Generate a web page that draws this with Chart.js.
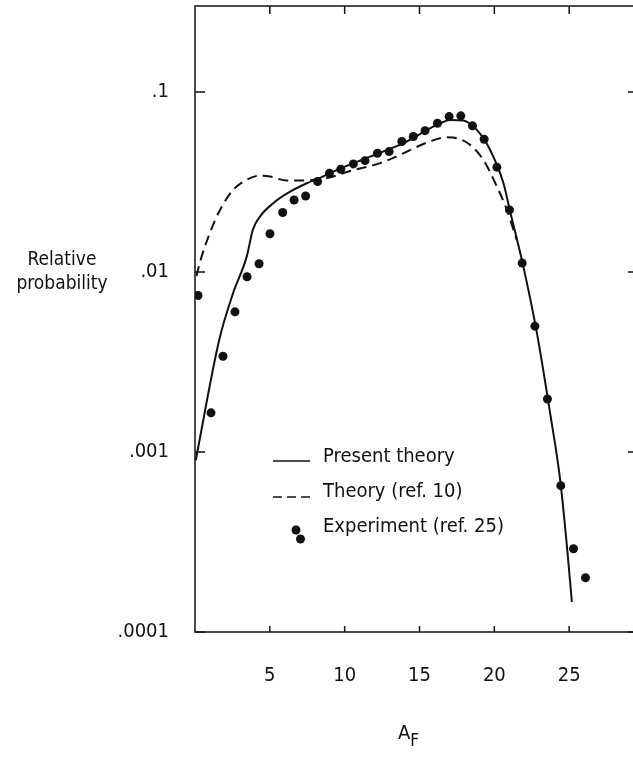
<!DOCTYPE html>
<html>
<head>
<meta charset="utf-8">
<script src="https://cdn.jsdelivr.net/npm/chart.js@4/dist/chart.umd.min.js"></script>
<style>
  html, body { margin: 0; padding: 0; background: #fff; overflow: hidden; }
  body { width: 633px; height: 757px; position: relative; color: #111; }
  #wrap { position: absolute; left: 0; top: 0; width: 660px; height: 757px; }
  .ytitle { position: absolute; left: 0; width: 124px; top: 246px; text-align: center; font-family: 'DejaVu Sans Condensed', sans-serif; font-size: 19px; line-height: 24px; }
  .xtitle { position: absolute; left: 398px; top: 720px; font-family: 'DejaVu Sans Condensed', sans-serif; font-size: 20px; }
  .xtitle sub { font-size: 17px; vertical-align: -7px; }
</style>
</head>
<body>
<div id="wrap"><canvas id="chart" width="660" height="757"></canvas></div>
<div class="ytitle">Relative<br>probability</div>
<div class="xtitle">A<sub>F</sub></div>
<script>
// tick values
const xTicks = [5, 10, 15, 20, 25];
const yTicks = [0.0001, 0.001, 0.01, 0.1];
const yTickLabels = ['.0001', '.001', '.01', '.1'];

// present theory (solid)
const presentX = [0.05, 1.62, 2.54, 3.46, 3.86, 4.34, 5.23, 6.35, 7.47, 8.36, 9.47, 11.7, 13.92, 16.16, 17.05, 17.93, 18.83, 19.72, 20.61, 21.06, 21.94, 22.84, 23.73, 24.4, 24.85, 25.18];
const presentY = [0.0009, 0.0042, 0.0076, 0.0122, 0.0171, 0.0203, 0.0241, 0.0279, 0.0311, 0.0333, 0.0368, 0.0437, 0.0519, 0.0656, 0.0699, 0.0693, 0.0615, 0.0476, 0.0311, 0.0216, 0.0107, 0.0046, 0.00164, 0.0007, 0.0003, 0.000147];

// theory ref. 10 (dashed)
const ref10X = [0.1, 0.38, 1.0, 1.67, 2.56, 3.46, 4.34, 5.01, 6.13, 7.24, 8.8, 10.58, 12.37, 13.92, 15.49, 16.82, 17.49, 18.38, 19.27, 20.17, 20.84, 21.5];
const ref10Y = [0.0095, 0.0117, 0.0165, 0.0221, 0.0286, 0.0325, 0.0343, 0.0339, 0.0322, 0.0322, 0.0332, 0.0368, 0.0402, 0.0456, 0.0523, 0.0560, 0.0553, 0.0508, 0.0419, 0.0298, 0.0221, 0.0150];

// experiment ref. 25 (dots)
const expX = [0.2, 1.07, 1.87, 2.67, 3.48, 4.28, 5.01, 5.86, 6.62, 7.39, 8.19, 8.98, 9.74, 10.58, 11.36, 12.19, 12.97, 13.82, 14.59, 15.37, 16.2, 16.98, 17.76, 18.54, 19.32, 20.17, 21.01, 21.86, 22.71, 23.55, 24.44, 25.29, 26.09];
const expY = [0.0074, 0.00165, 0.0034, 0.0060, 0.0094, 0.0111, 0.0163, 0.0214, 0.0251, 0.0264, 0.0318, 0.0353, 0.0372, 0.0398, 0.0415, 0.0456, 0.0466, 0.0530, 0.0565, 0.0609, 0.0670, 0.0729, 0.0736, 0.0648, 0.0546, 0.0382, 0.0221, 0.0112, 0.0050, 0.00197, 0.00065, 0.00029, 0.00020];

const zip = (xs, ys) => xs.map((x, i) => ({ x, y: ys[i] }));
const INK = '#111';
const TICK_FONT = "'Liberation Sans Narrow', 'DejaVu Sans Condensed', sans-serif";
const TEXT_FONT = "'DejaVu Sans Condensed', sans-serif";

// frame, inward ticks and the legend
const framePlugin = {
  id: 'frame',
  afterDraw(chart) {
    const { ctx, chartArea: a, scales } = chart;
    const xs = scales.x, ys = scales.y;
    ctx.save();
    ctx.strokeStyle = INK;
    ctx.lineWidth = 1.5;
    ctx.strokeRect(a.left, a.top, a.right - a.left, a.bottom - a.top);
    ctx.beginPath();
    xTicks.forEach(v => {
      const px = xs.getPixelForValue(v);
      ctx.moveTo(px, a.bottom); ctx.lineTo(px, a.bottom - 6);
      ctx.moveTo(px, a.top); ctx.lineTo(px, a.top + 8);
    });
    yTicks.forEach(v => {
      const py = ys.getPixelForValue(v);
      ctx.moveTo(a.left, py); ctx.lineTo(a.left + 10, py);
      ctx.moveTo(a.right, py); ctx.lineTo(a.right - 16, py);
    });
    ctx.stroke();

    // legend
    const lx = 273, tx = 323;
    const rows = [457, 492, 527];
    ctx.lineWidth = 1.6;
    ctx.beginPath();
    ctx.moveTo(lx, rows[0] + 4); ctx.lineTo(lx + 37, rows[0] + 4);
    ctx.stroke();
    ctx.setLineDash([9, 5]);
    ctx.beginPath();
    ctx.moveTo(lx, rows[1] + 5); ctx.lineTo(lx + 37, rows[1] + 5);
    ctx.stroke();
    ctx.setLineDash([]);
    ctx.fillStyle = INK;
    ctx.beginPath(); ctx.arc(296, rows[2] + 3, 4.5, 0, Math.PI * 2); ctx.fill();
    ctx.beginPath(); ctx.arc(300.5, rows[2] + 12, 4.5, 0, Math.PI * 2); ctx.fill();
    ctx.font = '20px ' + TEXT_FONT;
    ctx.textBaseline = 'middle';
    ctx.fillText('Present theory', tx, rows[0]);
    ctx.fillText('Theory (ref. 10)', tx, rows[1]);
    ctx.fillText('Experiment (ref. 25)', tx, rows[2]);
    ctx.restore();
  }
};

new Chart(document.getElementById('chart'), {
  type: 'scatter',
  data: {
    datasets: [
      {
        label: 'Present theory',
        data: zip(presentX, presentY),
        showLine: true,
        borderColor: INK,
        borderWidth: 2,
        pointRadius: 0,
        cubicInterpolationMode: 'monotone'
      },
      {
        label: 'Theory (ref. 10)',
        data: zip(ref10X, ref10Y),
        showLine: true,
        borderColor: INK,
        borderWidth: 2,
        borderDash: [10, 6],
        pointRadius: 0,
        cubicInterpolationMode: 'monotone'
      },
      {
        label: 'Experiment (ref. 25)',
        data: zip(expX, expY),
        showLine: false,
        pointRadius: 4.5,
        pointBackgroundColor: INK,
        pointBorderColor: INK,
        pointBorderWidth: 0
      }
    ]
  },
  options: {
    responsive: false,
    animation: false,
    events: [],
    layout: { padding: { left: 0, top: 6, right: 16, bottom: 0 } },
    plugins: { legend: { display: false }, tooltip: { enabled: false } },
    scales: {
      x: {
        type: 'linear',
        min: 0,
        max: 30,
        afterBuildTicks: s => { s.ticks = xTicks.map(v => ({ value: v })); },
        afterFit: s => { s.height = 125; s.paddingLeft = 0; s.paddingRight = 0; },
        grid: { display: false },
        border: { display: false },
        ticks: { color: INK, font: { family: TICK_FONT, size: 20 }, padding: 24, maxRotation: 0 }
      },
      y: {
        type: 'logarithmic',
        min: 0.0001,
        max: 0.3,
        afterBuildTicks: s => { s.ticks = yTicks.map(v => ({ value: v })); },
        afterFit: s => { s.width = 195; s.paddingTop = 0; s.paddingBottom = 0; },
        grid: { display: false },
        border: { display: false },
        ticks: {
          color: INK,
          font: { family: TICK_FONT, size: 20 },
          padding: 18,
          callback: v => {
            const i = yTicks.findIndex(t => Math.abs(t - v) / t < 1e-6);
            return i >= 0 ? yTickLabels[i] : '';
          }
        }
      }
    }
  },
  plugins: [framePlugin]
});
</script>
</body>
</html>
